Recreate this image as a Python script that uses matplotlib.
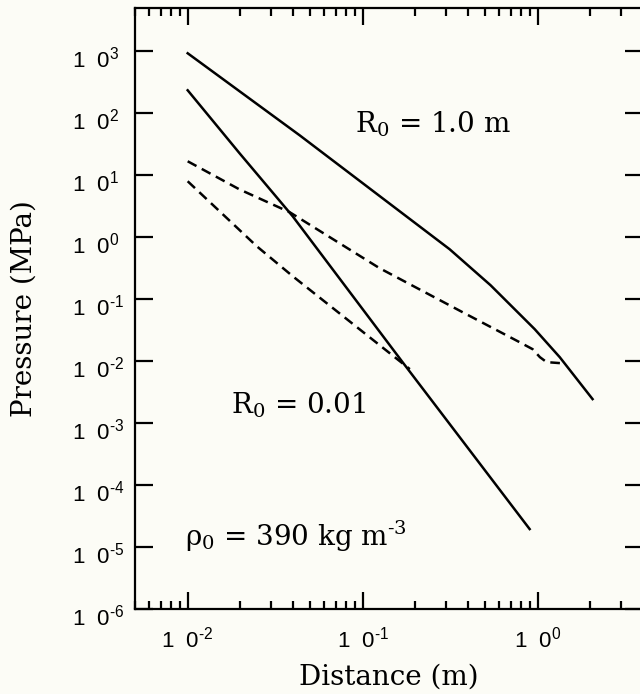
import matplotlib
matplotlib.use("Agg")
import matplotlib.pyplot as plt
from matplotlib.ticker import LogLocator, FixedLocator, FixedFormatter, NullFormatter
from matplotlib.transforms import ScaledTranslation

# --- data (distance in m, pressure in MPa) ---
r1_dist = [0.01, 0.0437, 0.314, 0.538, 0.962, 1.337, 2.06]
r1_pres = [930, 44, 0.64, 0.168, 0.0328, 0.0116, 0.00244]

r001_dist = [0.01, 0.0198, 0.0398, 0.169, 0.90]
r001_pres = [235, 22.6, 2.18, 0.00964, 1.95e-5]

dash_up_dist = [0.01, 0.0198, 0.0383, 0.125, 0.372, 0.789, 0.936, 1.03, 1.125, 1.34]
dash_up_pres = [16.8, 5.9, 2.53, 0.316, 0.0617, 0.0202, 0.0156, 0.0116, 0.00964, 0.00929]

dash_lo_dist = [0.01, 0.0248, 0.0398, 0.186]
dash_lo_pres = [8.0, 0.716, 0.235, 0.00743]

y_exps = [-6, -5, -4, -3, -2, -1, 0, 1, 2, 3]
x_exps = [-2, -1, 0]


def exp_label(e):
    # short hyphen for the minus, like the original typesetting
    sign = r"\text{-}" if e < 0 else ""
    return r"1  0$^{%s%d}$" % (sign, abs(e))


bg = "#fcfcf6"
plt.rcParams["mathtext.fontset"] = "custom"
plt.rcParams["mathtext.rm"] = "Liberation Sans"
plt.rcParams["mathtext.it"] = "Liberation Sans:italic"
plt.rcParams["mathtext.default"] = "regular"

fig = plt.figure(figsize=(6.4, 6.94), dpi=100, facecolor=bg)
ax = fig.add_axes([135 / 640, 1 - 609 / 694, (643 - 135) / 640, (609 - 8) / 694])
ax.set_facecolor(bg)

ax.plot(r1_dist, r1_pres, color="black", lw=1.8)
ax.plot(r001_dist, r001_pres, color="black", lw=1.8)
ax.plot(dash_up_dist, dash_up_pres, color="black", lw=1.8, dashes=(4.0, 2.4))
ax.plot(dash_lo_dist, dash_lo_pres, color="black", lw=1.8, dashes=(4.0, 2.4))

ax.set_xscale("log")
ax.set_yscale("log")
ax.set_xlim(0.005, 4)
ax.set_ylim(1e-6, 5e3)

for s in ax.spines.values():
    s.set_linewidth(1.6)

# x: major + minor ticks, inside, top and bottom
ax.xaxis.set_major_locator(FixedLocator([10.0 ** e for e in x_exps]))
ax.xaxis.set_major_formatter(FixedFormatter([exp_label(e) for e in x_exps]))
ax.xaxis.set_minor_locator(LogLocator(base=10, subs=range(2, 10)))
ax.xaxis.set_minor_formatter(NullFormatter())
# y: major ticks only
ax.yaxis.set_major_locator(FixedLocator([10.0 ** e for e in y_exps]))
ax.yaxis.set_major_formatter(FixedFormatter([exp_label(e) for e in y_exps]))
ax.yaxis.set_minor_locator(FixedLocator([]))

ax.tick_params(which="both", direction="in", top=True, right=True, width=1.6,
               labelsize=16, labelfontfamily="Liberation Sans")
ax.tick_params(axis="x", which="major", length=12, pad=13)
ax.tick_params(axis="x", which="minor", length=6)
ax.tick_params(axis="y", which="major", length=13, pad=45)

off = ScaledTranslation(0, -6 / 100, fig.dpi_scale_trans)
for lbl in ax.get_yticklabels():
    lbl.set_horizontalalignment("left")
    lbl.set_transform(lbl.get_transform() + off)

ax.set_xlabel("Distance (m)", family="DejaVu Serif", fontsize=20, labelpad=8)
ax.set_ylabel("Pressure (MPa)", family="DejaVu Serif", fontsize=20, labelpad=25)

ax.text(0.090, 49.4, r"R$_0$ = 1.0 m", family="DejaVu Serif", fontsize=20, va="baseline")
ax.text(0.0178, 1.45e-3, r"R$_0$ = 0.01", family="DejaVu Serif", fontsize=20, va="baseline")
ax.text(0.0096, 1.04e-5, r"$\rho_0$ = 390 kg m$^{\text{-}3}$", family="DejaVu Serif",
        fontsize=20, va="baseline")

fig.savefig("out.png", dpi=100, facecolor=bg)
